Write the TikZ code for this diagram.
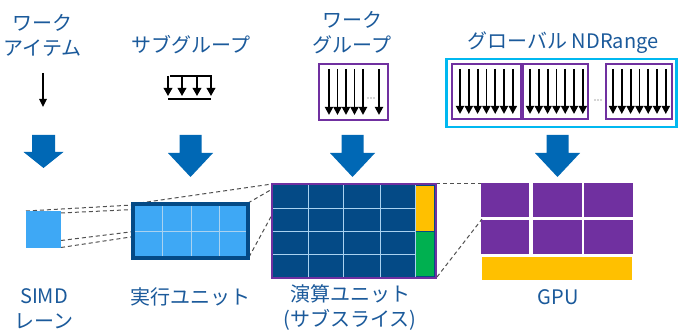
\documentclass[tikz,border=0pt]{standalone}
\usepackage{fontspec}
\setmainfont{Noto Sans CJK JP}
\usetikzlibrary{arrows.meta}
\definecolor{txtblue}{RGB}{27,90,155}
\definecolor{arrowblue}{RGB}{0,104,181}
\definecolor{lightblue}{RGB}{62,168,245}
\definecolor{navy}{RGB}{4,74,134}
\definecolor{purp}{RGB}{112,48,160}
\definecolor{gold}{RGB}{255,192,0}
\definecolor{grn}{RGB}{0,176,80}
\definecolor{cyanb}{RGB}{0,184,240}
\definecolor{gridline}{RGB}{170,210,240}
\definecolor{dashgray}{RGB}{80,80,80}
\tikzset{
  lbl/.style={text=txtblue, font=\fontsize{20}{25}\selectfont, align=center, inner sep=0pt},
  box/.style={rectangle, inner sep=0pt, outer sep=0pt, anchor=north west},
  thinarrow/.style={line width=1.5pt, -{Triangle[width=7.5pt,length=8pt]}},
  itemarrow/.style={line width=1.8pt, -{Triangle[width=8pt,length=8pt]}},
  dashlink/.style={dashgray, line width=1pt, dash pattern=on 4pt off 3pt},
  gridl/.style={gridline, line width=0.9pt},
  purpbox/.style={box, draw=purp, line width=2.8pt},
  bigarrowA/.pic={\fill[arrowblue] (-11.5,0) -- (11.5,0) -- (11.5,17) -- (20,17) -- (0,33) -- (-20,17) -- (-11.5,17) -- cycle;},
  bigarrowB/.pic={\fill[arrowblue] (-11,0) -- (11,0) -- (11,18) -- (22.5,18) -- (0,42) -- (-22.5,18) -- (-11,18) -- cycle;},
}
\begin{document}
\begin{tikzpicture}[x=1pt,y=-1pt]
\useasboundingbox (0,0) rectangle (678,334);
\fill[white] (0,0) rectangle (678,334);

% ---------- top labels ----------
\node[lbl] (wiLbl) at (43,35) {ワーク\\アイテム};
\node[lbl] (sgLbl) at (191,45) {サブグループ};
\node[lbl] (wgLbl) at (352,33) {ワーク\\グループ};
\node[lbl] (glLbl) at (563,43) {グローバル NDRange};

% ---------- work item ----------
\coordinate (wiTop) at (43,73);
\coordinate (wiBot) at (43,107);
\draw[thinarrow] (wiTop) -- (wiBot);

% ---------- sub group ----------
\coordinate (sgTL) at (170,76);
\coordinate (sgTR) at (212,76);
\coordinate (sgBL) at (168,99);
\coordinate (sgBR) at (211,99);
\draw[line width=2.2pt] (sgTL) -- (sgTR);
\draw[line width=2.2pt] (sgBL) -- (sgBR);
\foreach \x in {168,182,197,211}
  \draw[line width=1.8pt, -{Triangle[width=8.5pt,length=8pt]}] (\x,76) -- (\x,96);

% ---------- work group ----------
\node[purpbox, minimum width=69pt, minimum height=56pt] (wg) at (319,64) {};
\foreach \x in {329,337.5,346,354.5,363,379}
  \draw[itemarrow] (\x,69) -- (\x,115);
\foreach \x in {368,371,374} \fill[black!70] (\x,98) circle (0.7pt);

% ---------- global ND range ----------
\node[box, draw=cyanb, line width=2.8pt, minimum width=230pt, minimum height=68pt] (gl) at (446.5,59) {};
\node[purpbox, minimum width=69pt, minimum height=55pt] (g1) at (452,64) {};
\node[purpbox, minimum width=65pt, minimum height=55pt] (g2) at (523,64) {};
\node[purpbox, minimum width=66pt, minimum height=55pt] (g3) at (606,64) {};
\foreach \s in {460,530,613}
  \foreach \i in {0,...,6}
    \draw[itemarrow] (\s+\i*8.8,69) -- (\s+\i*8.8,114);
\foreach \x in {595,598,601} \fill[black!70] (\x,100) circle (0.7pt);

% ---------- big arrows ----------
\pic at (43.5,135) {bigarrowA};
\pic at (190.5,135) {bigarrowB};
\pic at (352.5,135) {bigarrowB};
\pic at (557.5,135) {bigarrowB};

% ---------- dashed links ----------
\coordinate (simdA) at (26,211);
\coordinate (simdB) at (61,213);
\coordinate (simdC) at (61,240.5);
\coordinate (simdD) at (61,247.5);
\coordinate (exA) at (133,205);
\coordinate (exB) at (134,209.5);
\coordinate (exC) at (134,231.5);
\coordinate (exD) at (134,236.5);
\draw[dashlink] (simdA) -- (exA);
\draw[dashlink] (simdB) -- (exB);
\draw[dashlink] (simdC) -- (exC);
\draw[dashlink] (simdD) -- (exD);

\coordinate (cuA) at (272,184);
\coordinate (cuB) at (274,188);
\coordinate (cuC) at (273,213);
\draw[dashlink] (133,204) -- (cuA);
\draw[dashlink] (248,203) -- (cuB);
\draw[dashlink] (249,257) -- (cuC);

\coordinate (gpuA) at (481,184);
\coordinate (gpuB) at (482,219);
\draw[dashlink] (436,184) -- (gpuA);
\draw[dashlink] (437,277) -- (gpuB);

% ---------- SIMD lane ----------
\node[box, fill=lightblue, minimum width=35pt, minimum height=37pt] (simd) at (26,211) {};

% ---------- execution unit ----------
\node[box, fill=lightblue, minimum width=115pt, minimum height=54pt] (ex) at (133,204) {};
\foreach \x in {162.5,191,219.5} \draw[gridl] (\x,204) -- (\x,258);
\draw[gridl] (133,231) -- (248,231);
\node[box, draw=navy, line width=3.2pt, minimum width=115pt, minimum height=54pt] (exFrame) at (133,204) {};

% ---------- compute unit ----------
\node[box, fill=navy, minimum width=164pt, minimum height=94pt] (cu) at (272,184) {};
\foreach \x in {308,343.5,380,415} \draw[gridl] (\x,184) -- (\x,278);
\foreach \y in {208,231,254} \draw[gridl] (272,\y) -- (415,\y);
\fill[gold] (416,186) rectangle (434,231);
\fill[grn] (416,232.5) rectangle (434,276);
\node[box, draw=purp, line width=2.8pt, minimum width=164pt, minimum height=94pt] (cuFrame) at (272,184) {};

% ---------- GPU ----------
\node[box, fill=purp, minimum width=48pt, minimum height=34pt] (p1) at (481,183) {};
\node[box, fill=purp, minimum width=49pt, minimum height=34pt] (p2) at (533,183) {};
\node[box, fill=purp, minimum width=49pt, minimum height=34pt] (p3) at (584,183) {};
\node[box, fill=purp, minimum width=48pt, minimum height=34pt] (p4) at (481,220) {};
\node[box, fill=purp, minimum width=49pt, minimum height=34pt] (p5) at (533,220) {};
\node[box, fill=purp, minimum width=49pt, minimum height=34pt] (p6) at (584,220) {};
\node[box, fill=gold, minimum width=150pt, minimum height=23pt] (slm) at (482,257) {};

% ---------- bottom labels ----------
\node[lbl] (simdLbl) at (44,309) {SIMD\\レーン};
\node[lbl] (exLbl) at (190,297) {実行ユニット};
\node[lbl] (cuLbl) at (350,308) {演算ユニット\\(サブスライス)};
\node[lbl] (gpuLbl) at (558,297) {GPU};
\end{tikzpicture}
\end{document}
